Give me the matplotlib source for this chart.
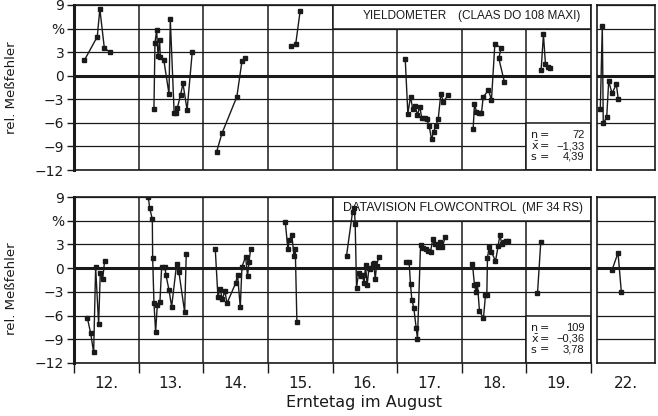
import matplotlib.pyplot as plt
from matplotlib.patches import Rectangle

plt.rcParams["font.family"] = ["DejaVu Sans"]
LABEL_FONT = ["Liberation Sans", "DejaVu Sans"]

DAY_LABELS = ["12.", "13.", "14.", "15.", "16.", "17.", "18.", "19."]
EXTRA_LABEL = "22."

# Yieldometer (CLAAS DO 108 MAXI): Erntetag, Lage im Tag (Anteil), rel. Messfehler in %
YD_DAY = [12] * 5 + [13] * 16 + [14] * 5 + [15] * 3 + [17] * 18 + [18] * 12 + [19] * 5 + [22] * 8
YD_T = [0.16, 0.36, 0.40, 0.47, 0.55,
        0.237, 0.253, 0.279, 0.30, 0.325, 0.335, 0.39, 0.47, 0.49, 0.55, 0.58, 0.60, 0.65, 0.686, 0.75, 0.83,
        0.207, 0.29, 0.52, 0.60, 0.65,
        0.36, 0.43, 0.50,
        0.125, 0.166, 0.207, 0.243, 0.279, 0.315, 0.351, 0.382, 0.424, 0.46, 0.496, 0.532, 0.563, 0.599,
        0.635, 0.676, 0.717, 0.79,
        0.176, 0.197, 0.228, 0.27, 0.305, 0.331, 0.413, 0.46, 0.512, 0.61, 0.573, 0.66,
        0.228, 0.264, 0.295, 0.331, 0.373,
        0.051, 0.082, 0.097, 0.150, 0.181, 0.232, 0.299, 0.329]
YD_V = [1.96, 4.96, 8.49, 3.48, 3.05,
        -4.24, 4.2, 5.81, 2.55, 4.54, 2.42, 2.0, -2.33, 7.2, -4.79, -4.79, -4.07, -2.42, -0.97, -4.36, 3.05,
        -9.67, -7.33, -2.67, 1.91, 2.29,
        3.78, 3.99, 8.27,
        2.17, -4.83, -2.67, -4.28, -3.86, -5.0, -3.94, -5.43, -5.43, -5.55, -6.40, -8.10, -7.12, -6.40,
        -5.55, -2.33, -3.30, -2.46,
        -6.82, -3.60, -4.58, -4.79, -4.79, -2.75, -1.82, -3.09, 3.99, 3.57, 2.21, -0.80,
        0.72, 5.26, 1.49, 1.15, 1.02,
        -4.24, 6.32, -6.06, -5.3, -0.67, -2.24, -1.10, -2.97]
YD_STATS = ["72", "\u22121,33", "4,39"]

# Datavision Flowcontrol (MF 34 RS)
FC_DAY = [12] * 8 + [13] * 17 + [14] * 14 + [15] * 7 + [16] * 18 + [17] * 18 + [18] * 18 + [19] * 2 + [22] * 3
FC_T = [0.206, 0.258, 0.304, 0.335, 0.381, 0.407, 0.443, 0.474,
        0.15, 0.17, 0.212, 0.217, 0.237, 0.263, 0.289, 0.33, 0.356, 0.408, 0.423, 0.47, 0.511, 0.588,
        0.624, 0.712, 0.737,
        0.186, 0.227, 0.263, 0.294, 0.336, 0.367, 0.5, 0.531, 0.573, 0.599, 0.655, 0.686, 0.707, 0.733,
        0.269, 0.31, 0.33, 0.372, 0.403, 0.424, 0.449,
        0.217, 0.31, 0.336, 0.351, 0.372, 0.403, 0.434, 0.465, 0.49, 0.511, 0.537, 0.563, 0.588, 0.619,
        0.64, 0.661, 0.681, 0.717,
        0.145, 0.186, 0.207, 0.228, 0.258, 0.295, 0.315, 0.362, 0.403, 0.444, 0.48, 0.517, 0.553, 0.589,
        0.64, 0.671, 0.702, 0.743,
        0.166, 0.197, 0.223, 0.243, 0.274, 0.336, 0.367, 0.388, 0.398, 0.424, 0.46, 0.522, 0.563, 0.589,
        0.62, 0.65, 0.692, 0.718,
        0.172, 0.223,
        0.232, 0.325, 0.376]
FC_V = [-6.26, -8.24, -10.67, 0.09, -7.10, -0.59, -1.43, 0.93,
        9.0, 7.65, 6.18, 1.31, -4.37, -8.11, -4.66, -4.24, 0.09, 0.09, -0.88, -2.77, -4.87, 0.51,
        -0.54, -5.55, 1.73,
        2.4, -3.61, -2.64, -3.95, -2.90, -4.45, -1.93, -0.88, -4.96, 0.17, 1.43, -0.96, 0.72, 2.44,
        5.85, 2.40, 3.53, 4.17, 1.56, 2.48, -6.76,
        1.56, 7.11, 7.65, 5.64, -2.48, -0.67, -0.96, -0.88, -1.93, 0.38, -2.14, -0.04, -0.12, 0.51,
        0.59, -1.43, 0.30, 1.43,
        0.80, 0.72, -2.06, -4.03, -5.0, -7.60, -8.95, 2.90, 2.57, 2.36, 2.19, 2.06, 3.74, 3.11,
        2.69, 3.32, 2.69, 3.95,
        0.47, -2.14, -2.98, -2.01, -5.42, -6.34, -3.40, -3.40, 1.31, 2.69, 2.06, 0.89, 2.78, 4.17,
        3.11, 3.32, 3.45, 3.41,
        -3.19, 3.32,
        -0.25, 1.94, -2.98]
FC_STATS = ["109", "\u22120,36", "3,78"]

Y_TICKS = [-12, -9, -6, -3, 0, 3, 6, 9]
Y_TICKLABELS = ["\u221212", "\u22129", "\u22126", "\u22123", "0", "3", "%", "9"]

INK = "#1a1a1a"
BOX_W = 0.897  # width of the 22. box in day units


def style_axes(ax, xmax, vlines):
    ax.set_xlim(0, xmax)
    ax.set_ylim(-12, 9)
    for y in Y_TICKS:
        ax.axhline(y, color=INK, lw=2.2 if y == 0 else 0.9, zorder=1)
    for x in vlines:
        ax.axvline(x, color=INK, lw=1.1, zorder=1)
    for side in ax.spines.values():
        side.set_color(INK)
        side.set_linewidth(1.2)


def draw_panel(fig, rect_main, rect_box, days, t, v, title, subtitle, title_x, sub_x,
               sizes, stats, bottom, ylabel_y):
    ax = fig.add_axes(rect_main)
    axb = fig.add_axes(rect_box)
    style_axes(ax, 8, range(1, 8))
    style_axes(axb, BOX_W, [])
    ax.spines["left"].set_linewidth(2.2)

    # one line per harvest day
    for d in sorted(set(days)):
        idx = [i for i, dd in enumerate(days) if dd == d]
        xs = [t[i] for i in idx]
        ys = [v[i] for i in idx]
        if d == 22:
            axb.plot(xs, ys, color=INK, lw=1, marker="s", ms=3.2, zorder=4)
        else:
            off = d - 12
            ax.plot([off + x for x in xs], ys, color=INK, lw=1, marker="s", ms=3.2, zorder=4)

    # title box and statistics box
    ax.add_patch(Rectangle((4, 6), 4, 3, facecolor="white", edgecolor=INK, lw=1.1, zorder=2))
    ax.text(title_x, 7.55, title, ha="right", va="center", fontsize=sizes[0], color=INK,
            family=LABEL_FONT, zorder=3)
    ax.text(sub_x, 7.55, subtitle, ha="right", va="center", fontsize=sizes[1], color=INK,
            family=LABEL_FONT, zorder=3)
    ax.add_patch(Rectangle((7, -12), 1, 6, facecolor="white", edgecolor=INK, lw=1.1, zorder=2))
    for (name, val), y in zip(zip(["n", r"$\bar{\mathrm{x}}$", "s"], stats), [-7.55, -8.95, -10.3]):
        ax.text(7.07, y, name, ha="left", va="center", fontsize=8, color=INK, zorder=3)
        ax.text(7.21, y, "=", ha="left", va="center", fontsize=8, color=INK, zorder=3)
        ax.text(7.9, y, val, ha="right", va="center", fontsize=8, color=INK,
                family=LABEL_FONT, zorder=3)

    ax.set_yticks(Y_TICKS)
    ax.set_yticklabels(Y_TICKLABELS, fontsize=10, color=INK)
    ax.tick_params(axis="y", direction="out", length=5, width=1, pad=2, colors=INK)
    axb.set_yticks([])
    axb.set_xticks([])
    ax.set_ylabel("rel. Meßfehler", fontsize=9.5, color=INK)
    ax.yaxis.set_label_coords(-0.108, ylabel_y)

    if bottom:
        ax.set_xticks(range(0, 9))
        ax.set_xticklabels([])
        ax.set_xticks([i + 0.5 for i in range(8)], minor=True)
        ax.set_xticklabels(DAY_LABELS, minor=True, fontsize=11, color=INK)
        ax.tick_params(axis="x", which="major", direction="out", length=7, width=1, colors=INK)
        ax.tick_params(axis="x", which="minor", length=0, pad=9)
        axb.set_xticks([BOX_W / 2], minor=True)
        axb.set_xticklabels([EXTRA_LABEL], minor=True, fontsize=11, color=INK)
        axb.tick_params(axis="x", which="minor", length=0, pad=9)
    else:
        ax.set_xticks([])


def main():
    fig = plt.figure(figsize=(6.58, 4.16), dpi=100)
    W, H = 658, 416

    draw_panel(fig,
               [74 / W, 1 - 170 / H, 517 / W, 165 / H],
               [597 / W, 1 - 170 / H, 58 / W, 165 / H],
               YD_DAY, YD_T, YD_V, "YIELDOMETER", "(CLAAS DO 108 MAXI)", 5.77, 7.84,
               (8.5, 8.5), YD_STATS, False, 0.5)
    draw_panel(fig,
               [74 / W, 1 - 363 / H, 517 / W, 166 / H],
               [597 / W, 1 - 363 / H, 58 / W, 166 / H],
               FC_DAY, FC_T, FC_V, "DATAVISION FLOWCONTROL", "(MF 34 RS)", 6.85, 7.87,
               (9, 8.5), FC_STATS, True, 0.45)

    fig.text(364.5 / W, 1 - 403 / H, "Erntetag im August", ha="center", va="center",
             fontsize=11.5, color=INK)

    fig.savefig("out.png", dpi=100)


if __name__ == "__main__":
    main()
